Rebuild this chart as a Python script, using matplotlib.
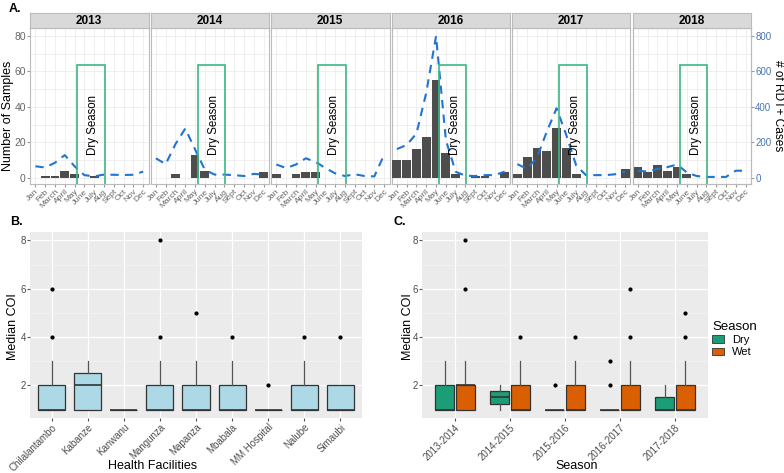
import numpy as np
import matplotlib.pyplot as plt
from matplotlib.patches import Rectangle

plt.rcParams['font.family'] = ['Liberation Sans', 'DejaVu Sans']

months = ['Jan', 'Feb', 'March', 'April', 'May', 'June', 'July', 'Aug',
          'Sept', 'Oct', 'Nov', 'Dec']
years = [2013, 2014, 2015, 2016, 2017, 2018]

# number of samples per month (bars)
samples = {
    2013: [0, 1, 1, 4, 2, 0, 1, 0, 0, 0, 0, 0],
    2014: [0, 0, 2, 0, 13, 4, 0, 0, 0, 0, 0, 3],
    2015: [2, 0, 2, 3, 3, 0, 0, 0, 0, 0, 0, 0],
    2016: [10, 10, 16, 23, 55, 14, 2, 0, 1, 1, 0, 3],
    2017: [2, 12, 17, 15, 28, 17, 2, 0, 0, 0, 0, 5],
    2018: [6, 3, 7, 4, 6, 2, 0, 0, 0, 0, 0, 0],
}
# RDT+ cases per month (dashed line, right axis)
rdt_cases = {
    2013: [65, 58, 85, 128, 65, 15, 8, 18, 17, 16, 17, 35],
    2014: [110, 77, 190, 278, 160, 45, 18, 18, 15, 10, 22, 18],
    2015: [75, 55, 75, 110, 90, 55, 25, 10, 20, 10, 8, 130],
    2016: [162, 185, 250, 480, 800, 213, 34, 12, 10, 15, 15, 35],
    2017: [77, 50, 115, 260, 392, 240, 70, 15, 15, 15, 20, 35],
    2018: [40, 35, 50, 60, 75, 30, 10, 5, 5, 5, 40, 40],
}

facilities = ['Chilalantambo', 'Kabanze', 'Kanwanu', 'Mangunza', 'Mapanza',
              'Mbabala', 'MM Hospital', 'Nalube', 'Simaubi']
fac_q1 = [1, 1, 1, 1, 1, 1, 1, 1, 1]
fac_med = [1, 2, 1, 1, 1, 1, 1, 1, 1]
fac_q3 = [2, 2.5, 1, 2, 2, 2, 1, 2, 2]
fac_lo = [1, 1, 1, 1, 1, 1, 1, 1, 1]
fac_hi = [3, 3, 1, 3, 3, 3, 1, 3, 2]
fac_out = [[4, 6], [], [], [4, 8], [5], [4], [2], [4], [4]]

seasons = ['2013-2014', '2014-2015', '2015-2016', '2016-2017', '2017-2018']
dry_q1 = [1, 1.25, 1, 1, 1]
dry_med = [1, 1.5, 1, 1, 1]
dry_q3 = [2, 1.75, 1, 1, 1.5]
dry_lo = [1, 1, 1, 1, 1]
dry_hi = [3, 2, 1, 1, 2]
dry_out = [[], [], [2], [2, 3], []]
wet_q1 = [1, 1, 1, 1, 1]
wet_med = [2, 1, 1, 1, 1]
wet_q3 = [2, 2, 2, 2, 2]
wet_lo = [1, 1, 1, 1, 1]
wet_hi = [3, 3, 3, 3, 3]
wet_out = [[6, 8], [4], [4], [4, 6], [4, 5]]

W, H = 784, 473
fig = plt.figure(figsize=(W / 100, H / 100), dpi=100)


def frac(x0, y0, x1, y1):
    return [x0 / W, 1 - y1 / H, (x1 - x0) / W, (y1 - y0) / H]


def ftext(px, py, s, **kw):
    return fig.text(px / W, 1 - py / H, s, **kw)


line_col = '#1f74d4'
green = '#3cb884'
x = np.arange(1, 13)

# ---- panel A ----
for i, yr in enumerate(years):
    x0 = 30 + i * 120.5
    x1 = x0 + 118.5
    ax = fig.add_axes(frac(x0, 28, x1, 184))
    ax.set_facecolor('white')
    ax.bar(x, samples[yr], width=0.9, color='#4d4d4d', zorder=3)
    ax.plot(x, np.array(rdt_cases[yr]) / 10, ls=(0, (4, 3)), color=line_col,
            lw=1.5, zorder=4)
    ax.add_patch(Rectangle((5.27, -10), 8.07 - 5.27, 63.5 + 10, fill=False,
                           ec=green, lw=1.2, zorder=5))
    ax.text(6.9, 30, 'Dry Season', rotation=90, ha='center', va='center',
            fontsize=8.3, zorder=6)
    ax.set_xlim(0.45, 12.55)
    ax.set_ylim(-3.5, 84.5)
    ax.set_xticks(x)
    ax.set_xticklabels(months, rotation=45, ha='right', fontsize=6,
                       color='#666666', rotation_mode='anchor')
    ax.set_yticks([0, 20, 40, 60, 80])
    ax.set_yticks([10, 30, 50, 70], minor=True)
    ax.grid(True, which='both', color='#ececec', lw=0.6, zorder=0)
    ax.set_axisbelow(True)
    ax.tick_params(axis='both', length=2, color='#999999', pad=1)
    ax.tick_params(axis='y', which='minor', length=0)
    for s in ax.spines.values():
        s.set_color('#bbbbbb')
    if i == 0:
        ax.set_yticklabels(['0', '20', '40', '60', '80'], fontsize=7.5,
                           color='#666666')
    else:
        ax.set_yticklabels([])
        ax.tick_params(axis='y', length=0)
    if i == len(years) - 1:
        ax2 = ax.twinx()
        ax2.set_ylim(-35, 845)
        ax2.set_yticks([0, 200, 400, 600, 800])
        ax2.tick_params(axis='y', labelsize=7, labelcolor='#4a74b0',
                        length=2, color='#999999', pad=1)
        for s in ax2.spines.values():
            s.set_color('#bbbbbb')
    # strip
    sx = fig.add_axes(frac(x0, 13, x1, 28))
    sx.set_facecolor('#d9d9d9')
    sx.set_xticks([])
    sx.set_yticks([])
    for s in sx.spines.values():
        s.set_color('#bbbbbb')
    sx.text(0.5, 0.45, str(yr), ha='center', va='center', fontsize=8.5,
            fontweight='bold', transform=sx.transAxes)

ftext(8, 116, 'Number of Samples', rotation=90, ha='center', va='center',
      fontsize=9)
ftext(778, 106, '# of RDT+ Cases', rotation=270, ha='center', va='center',
      fontsize=8.6)
ftext(9, 9, 'A.', fontsize=9, fontweight='bold', va='center')


def style_gg(ax):
    ax.set_facecolor('#ebebeb')
    ax.grid(True, color='white', lw=0.9)
    ax.set_axisbelow(True)
    for s in ax.spines.values():
        s.set_visible(False)
    ax.tick_params(axis='both', length=2, color='#555555', labelsize=7,
                   labelcolor='#4d4d4d', pad=1)
    ax.set_ylim(0.65, 8.35)
    ax.set_yticks([2, 4, 6, 8])
    ax.set_yticks([3, 5, 7], minor=True)
    ax.grid(True, which='minor', axis='y', color='#f4f4f4', lw=0.5)
    ax.tick_params(axis='y', which='minor', length=0)


def stats(q1, med, q3, lo, hi, out):
    return [dict(q1=a, med=b, q3=c, whislo=d, whishi=e, fliers=f)
            for a, b, c, d, e, f in zip(q1, med, q3, lo, hi, out)]


box_kw = dict(patch_artist=True, showcaps=False,
              medianprops=dict(color='#333333', lw=1.2),
              whiskerprops=dict(color='#555555', lw=0.9),
              flierprops=dict(marker='o', markersize=2, mfc='black',
                              mec='black'))

# ---- panel B ----
axb = fig.add_axes(frac(30, 232, 362, 418))
style_gg(axb)
pos = np.arange(1, len(facilities) + 1)
bp = axb.bxp(stats(fac_q1, fac_med, fac_q3, fac_lo, fac_hi, fac_out),
             positions=pos, widths=0.75, **box_kw)
for b in bp['boxes']:
    b.set_facecolor('#add8e6')
    b.set_edgecolor('#333333')
    b.set_linewidth(0.9)
axb.set_xlim(0.4, len(facilities) + 0.6)
axb.set_xticks(pos)
axb.set_xticklabels(facilities, rotation=45, ha='right',
                    rotation_mode='anchor')
ftext(153, 466, 'Health Facilities', ha='center', va='center', fontsize=9)
ftext(13, 327, 'Median COI', rotation=90, ha='center', va='center',
      fontsize=9)
ftext(10, 222, 'B.', fontsize=9, fontweight='bold', va='center')

# ---- panel C ----
axc = fig.add_axes(frac(422, 232, 708, 418))
style_gg(axc)
pos = np.arange(1, len(seasons) + 1)
for q1, med, q3, lo, hi, out, off, col in [
        (dry_q1, dry_med, dry_q3, dry_lo, dry_hi, dry_out, -0.19, '#1b9e77'),
        (wet_q1, wet_med, wet_q3, wet_lo, wet_hi, wet_out, 0.19, '#d95f02')]:
    bp = axc.bxp(stats(q1, med, q3, lo, hi, out), positions=pos + off,
                 widths=0.34, manage_ticks=False, **box_kw)
    for b in bp['boxes']:
        b.set_facecolor(col)
        b.set_edgecolor('#333333')
        b.set_linewidth(0.9)
axc.set_xlim(0.4, len(seasons) + 0.6)
axc.set_xticks(pos)
axc.set_xticklabels(seasons, rotation=45, ha='right', rotation_mode='anchor')
ftext(577, 466, 'Season', ha='center', va='center', fontsize=9)
ftext(408, 327, 'Median COI', rotation=90, ha='center', va='center',
      fontsize=9)
ftext(393, 222, 'C.', fontsize=9, fontweight='bold', va='center')

handles = [Rectangle((0, 0), 1, 1, fc='#1b9e77', ec='#333333', lw=0.6),
           Rectangle((0, 0), 1, 1, fc='#d95f02', ec='#333333', lw=0.6)]
leg = fig.legend(handles, ['Dry', 'Wet'], title='Season', loc='upper left',
                 bbox_to_anchor=(712 / W, 1 - 321 / H), frameon=False,
                 fontsize=8, title_fontsize=9.5, handlelength=1.1,
                 handleheight=0.7, labelspacing=0.2, handletextpad=0.7,
                 borderpad=0, borderaxespad=0)
leg._legend_box.align = 'left'

fig.savefig('out.png', dpi=100)
